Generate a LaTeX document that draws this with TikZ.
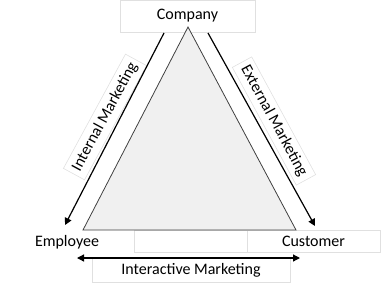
\documentclass[tikz,border=0pt]{standalone}
\usepackage{fontspec}
\setmainfont{Carlito}
\usetikzlibrary{positioning, arrows.meta}
\tikzset{
  txt/.style  = {inner sep=0pt, font=\fontsize{16}{19}\selectfont},
  tbox/.style = {txt, draw=black!12, line width=0.6pt},
  ar/.style   = {-{Triangle[length=7pt, width=7pt]}, line width=1.2pt},
  dar/.style  = {{Triangle[length=7pt, width=7pt]}-{Triangle[length=7pt, width=7pt]}, line width=1.2pt},
  tri/.style  = {draw=black!75, fill=black!6, line width=0.8pt},
}

\begin{document}
\begin{tikzpicture}[x=1pt, y=-1pt]
  \useasboundingbox (0,0) rectangle (382,284);
  % text boxes
  \node[tbox, minimum width=135pt, minimum height=32pt] (company) at (187.5,16) {Company};
  \node[tbox, minimum width=133pt, minimum height=22pt] (customer) at (313.5,241) {Customer};
  \node[txt] (employee) at (67,242) {Employee};
  \draw[black!12, line width=0.6pt] (134,230) rectangle (247,252);
  \node[tbox, minimum width=198pt, minimum height=24pt] (inter) at (191,270) {Interactive Marketing};
  \node[tbox, minimum width=130pt, minimum height=24pt, rotate=61.5] (internal) at (105,117) {Internal Marketing};
  \node[tbox, minimum width=134pt, minimum height=22pt, rotate=-61.5] (external) at (274,121) {External Marketing};
  % triangle
  \coordinate (top) at (188,27);
  \coordinate (bl)  at (83,230);
  \coordinate (br)  at (296,230);
  \draw[tri] (top) -- (bl) -- (br) -- cycle;
  % arrows
  \coordinate (int-s) at (164,33);
  \coordinate (int-e) at (65,225);
  \coordinate (ext-s) at (208,33);
  \coordinate (ext-e) at (315,226);
  \coordinate (ia-l)  at (77,258);
  \coordinate (ia-r)  at (300,258);
  \draw[ar]  (int-s) -- (int-e);
  \draw[ar]  (ext-s) -- (ext-e);
  \draw[dar] (ia-l) -- (ia-r);
\end{tikzpicture}
\end{document}
